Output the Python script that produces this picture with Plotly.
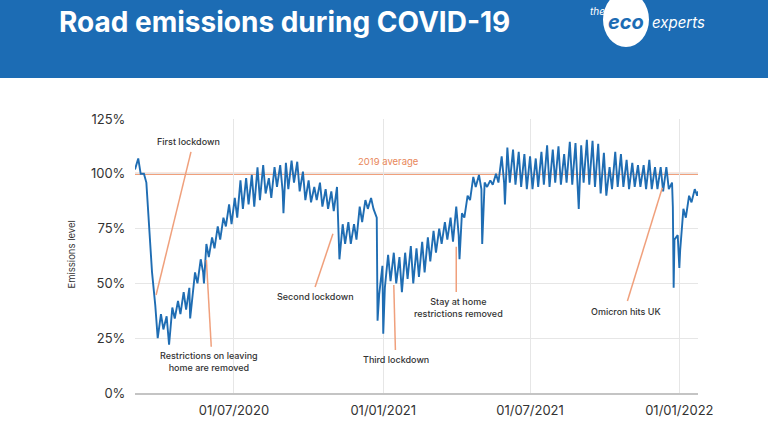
import pandas as pd
import plotly.graph_objects as go

# ---------------- data ----------------
start_date = "2020-03-01"   # first Sunday of the series
# weekend (Sunday) level, one value per week
sunday_low = [102, 100, 96, 55, 25, 29, 22, 34, 36, 38,
              41, 50, 55, 62, 66, 70, 76, 77, 80, 84,
              86, 85, 88, 91, 89, 94, 92, 93, 96, 92,
              88, 87, 88, 85, 84, 83, 61, 68, 68, 70,
              78, 84, 84, 45, 48, 51, 50, 46, 52, 50,
              53, 55, 60, 64, 68, 70, 69, 72, 80, 88,
              94, 93, 94, 95, 96, 96, 96, 95, 94, 93,
              93, 94, 95, 94, 96, 95, 96, 95, 93, 96,
              95, 94, 91, 90, 93, 94, 94, 93, 94, 94,
              93, 93, 93, 92, 93, 70, 65, 80, 87, 90]
# weekday (Thursday) level, one value per week
thursday_peak = [107, 100, 72, 40, 36, 35, 39, 42, 46, 48,
                 55, 61, 68, 71, 76, 80, 86, 89, 97, 98,
                 99.5, 103, 104, 98, 103, 104, 105, 106, 105.5, 101,
                 97, 94, 96, 93, 92, 94, 77, 78, 77, 85,
                 88, 89, 80, 58, 63, 64, 62, 64, 67, 66,
                 69, 71, 74, 75, 78, 80, 85, 82, 90, 98.6,
                 99.5, 96, 97, 100, 108, 112, 111, 110, 109, 108,
                 107, 110, 113, 111, 112.5, 109, 114.6, 114, 113, 115.5,
                 115, 113.7, 109.6, 103, 110, 109, 106.4, 105, 104, 104,
                 106.4, 103, 103, 103, 96, 72, 84, 90, 93]
# bank holidays and other one-off days
extra_dates = ["2020-05-08", "2020-05-25", "2020-08-31", "2020-12-25",
               "2021-01-01", "2021-04-05", "2021-05-03", "2021-05-31",
               "2021-08-30", "2021-12-24", "2021-12-25", "2022-01-01",
               "2022-01-24"]
extra_values = [34, 50, 82, 33,
                27, 61, 68, 86,
                84, 85, 48, 57,
                92]

x_start, x_end = "2020-03-01", "2022-01-24"
tick_dates = ["2020-07-01", "2021-01-01", "2021-07-01", "2022-01-01"]
tick_labels = ["01/07/2020", "01/01/2021", "01/07/2021", "01/01/2022"]
y_ticks = [0, 25, 50, 75, 100, 125]
y_tick_labels = ["0%", "25%", "50%", "75%", "100%", "125%"]
average_2019 = 100

event_labels = ["First lockdown", "Restrictions on leaving<br>home are removed",
                "Second lockdown", "Third lockdown",
                "Stay at home<br>restrictions removed", "Omicron hits UK"]
event_text_pos = [("2020-05-06", 114.7), ("2020-05-31", 14.5), ("2020-10-10", 43.8),
                  ("2021-01-17", 15.1), ("2021-04-04", 39.2), ("2021-10-27", 37.4)]
event_line_from = [("2020-05-09", 110), ("2020-05-28", 60.7), ("2020-10-09", 48.4),
                   ("2021-01-14", 49.3), ("2021-04-01", 66.7), ("2021-10-29", 42)]
event_line_to = [("2020-03-27", 44.7), ("2020-06-03", 21.1), ("2020-10-31", 72.6),
                 ("2021-01-16", 19.6), ("2021-04-01", 46.1), ("2021-12-11", 93.6)]

# ---------------- build series ----------------
base = pd.Timestamp(start_date)
points = {}
for i, v in enumerate(sunday_low):
    points[base + pd.Timedelta(days=7 * i)] = v
for i, v in enumerate(thursday_peak):
    points[base + pd.Timedelta(days=7 * i + 4)] = v
for d, v in zip(extra_dates, extra_values):
    points[pd.Timestamp(d)] = v
series = pd.Series(points).sort_index()

FONT = "Inter"
ORANGE = "#f0a07c"
BLUE = "#1f6db3"
HEADER = "#1c6cb4"

# plot area in pixels: left 135, right 698, top 119, bottom 393
L, R, T, B = 135, 698, 119, 393
W, H = 768, 432


def px(xp):
    return (xp - L) / (R - L)


def py(yp):
    return (B - yp) / (B - T)


fig = go.Figure()
fig.add_trace(go.Scatter(x=series.index, y=series.values, mode="lines",
                         line=dict(color=BLUE, width=1.9), hoverinfo="skip",
                         showlegend=False))

shapes = []
# header band
shapes.append(dict(type="rect", xref="paper", yref="paper",
                   x0=px(-5), x1=px(W + 5), y0=py(78), y1=py(-5),
                   fillcolor=HEADER, line=dict(width=0), layer="below"))
# logo circle
shapes.append(dict(type="circle", xref="paper", yref="paper",
                   x0=px(603), x1=px(649), y0=py(47), y1=py(-8),
                   fillcolor="white", line=dict(width=0), layer="below"))
# 2019 average line
shapes.append(dict(type="line", xref="paper", yref="y", x0=0, x1=1,
                   y0=average_2019, y1=average_2019,
                   line=dict(color=ORANGE, width=2.2), layer="below"))
for (x0, y0), (x1, y1) in zip(event_line_from, event_line_to):
    shapes.append(dict(type="line", xref="x", yref="y", x0=x0, y0=y0, x1=x1, y1=y1,
                       line=dict(color=ORANGE, width=1.5), layer="above"))

annotations = []
annotations.append(dict(text="2019 average", x="2021-01-08", y=105.7, xref="x", yref="y",
                        showarrow=False, font=dict(family=FONT, size=9.5, color="#e8875a")))
for label, (x, y) in zip(event_labels, event_text_pos):
    annotations.append(dict(text=label, x=x, y=y, xref="x", yref="y", showarrow=False,
                            font=dict(family=FONT, size=9, color="#333333", weight=500)))
annotations.append(dict(text="Emissions level", x=px(63), y=py(255), xref="paper", yref="paper",
                        textangle=-90, showarrow=False,
                        font=dict(family=FONT, size=9.5, color="#333333")))
# title
annotations.append(dict(text="<b>Road emissions during COVID-19</b>", x=px(57), y=py(22),
                        xref="paper", yref="paper", xanchor="left", yanchor="middle",
                        showarrow=False, font=dict(family=FONT, size=28, color="white")))
# logo texts
annotations.append(dict(text="<i>the</i>", x=px(588), y=py(11), xref="paper", yref="paper",
                        xanchor="left", yanchor="middle", showarrow=False,
                        font=dict(family=FONT, size=10, color="white")))
annotations.append(dict(text="<b><i>eco</i></b>", x=px(606), y=py(22), xref="paper", yref="paper",
                        xanchor="left", yanchor="middle", showarrow=False,
                        font=dict(family=FONT, size=20, color=HEADER)))
annotations.append(dict(text="<i>experts</i>", x=px(650), y=py(22), xref="paper", yref="paper",
                        xanchor="left", yanchor="middle", showarrow=False,
                        font=dict(family=FONT, size=15, color="white")))

fig.update_layout(
    width=W, height=H, autosize=False,
    margin=dict(l=L, r=W - R, t=T, b=H - B, pad=0),
    paper_bgcolor="white", plot_bgcolor="white",
    shapes=shapes, annotations=annotations,
    xaxis=dict(range=[x_start, x_end], tickmode="array", tickvals=tick_dates,
               ticktext=tick_labels, showgrid=True, gridcolor="#e6e6e6", gridwidth=1,
               showline=True, linecolor="#c4c4c4", linewidth=2,
               ticks="outside", ticklen=4, tickcolor="rgba(0,0,0,0)",
               tickfont=dict(family=FONT, size=13, color="#333333"), zeroline=False),
    yaxis=dict(range=[0, 125], tickmode="array", tickvals=y_ticks, ticktext=y_tick_labels,
               showgrid=True, gridcolor="#e6e6e6", gridwidth=1, zeroline=False,
               ticks="outside", ticklen=6, tickcolor="rgba(0,0,0,0)",
               tickfont=dict(family=FONT, size=13, color="#333333")),
)

fig.write_html("out.html")
